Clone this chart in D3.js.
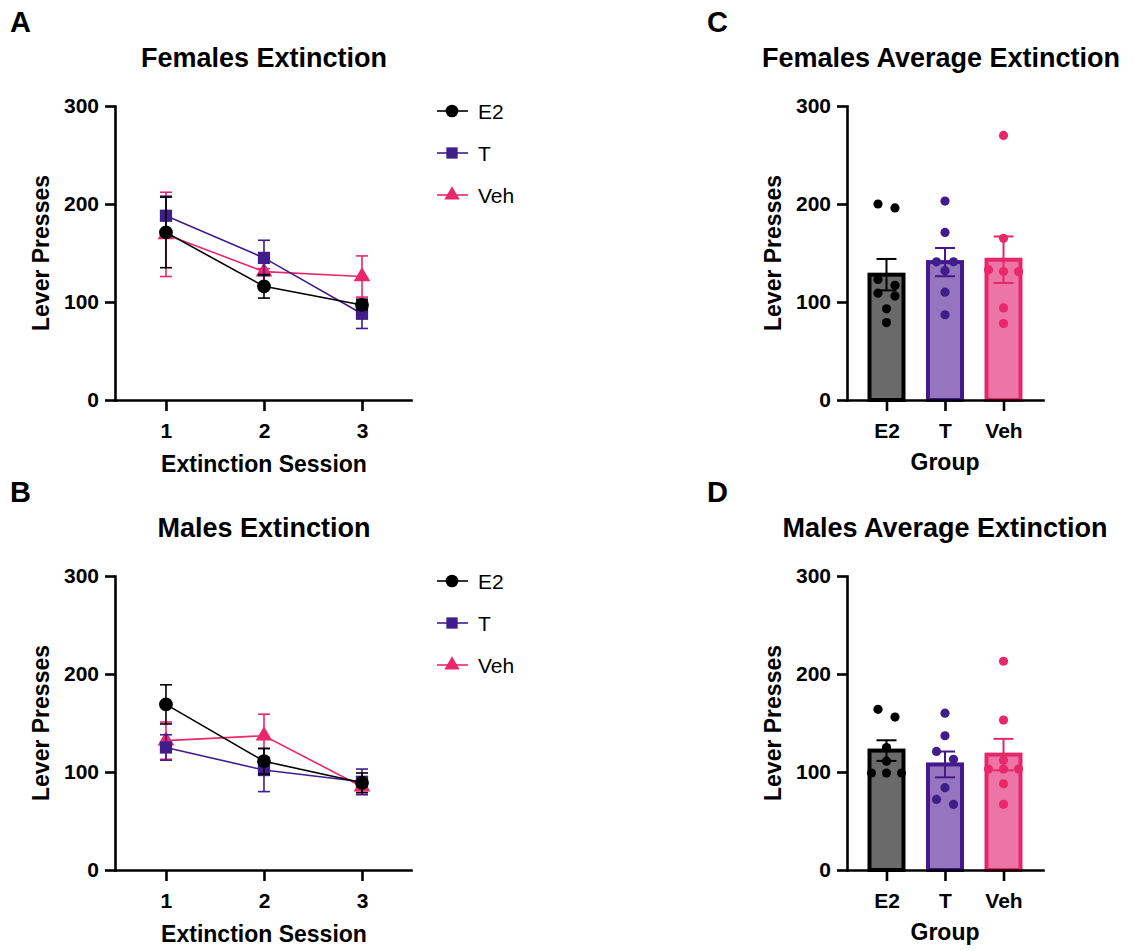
<!DOCTYPE html>
<html>
<head>
<meta charset="utf-8">
<script src="https://cdn.jsdelivr.net/npm/d3@7"></script>
<style>
  body { margin: 0; background: #fff; }
  text { font-family: "Liberation Sans", Arial, sans-serif; fill: #000; }
  .axis path, .axis line { stroke: #000; stroke-width: 2.6px; }
  .axis path { stroke-linecap: square; }
  .axis text { font-size: 21px; font-weight: bold; }
  .title { font-size: 27px; font-weight: bold; }
  .axis-label { font-size: 23px; font-weight: bold; }
  .panel-label { font-size: 29px; font-weight: bold; }
  .legend-text { font-size: 21px; }
</style>
</head>
<body>
<script>
// ---- data ----
const sessions = [1, 2, 3];
const groups = ["E2", "T", "Veh"];
const yTicks = [0, 100, 200, 300];

// session means / SEM, one row per group (E2, T, Veh)
const femalesMean = [[171, 116, 97], [188, 145, 88], [169, 131, 126]];
const femalesSem  = [[36, 12, 5], [20, 18, 15], [43, 3, 21]];
const malesMean   = [[169, 111, 89], [125, 102, 90], [132, 137, 85]];
const malesSem    = [[20, 13, 10], [13, 22, 13], [19, 22, 8]];

// individual animals (average over sessions), one row per group
const femalesPoints = [
  [200, 196, 123, 117, 109, 106, 93, 79],
  [203, 171, 141, 141, 132, 110, 87],
  [270, 165, 133, 131, 131, 94, 78]
];
const malesPoints = [
  [164, 156, 125, 111, 99, 99, 99],
  [160, 137, 121, 113, 84, 72, 67],
  [213, 153, 112, 103, 103, 103, 88, 67]
];

// ---- styles ----
const lineColors = ["#000000", "#3f1d8a", "#e8286b"];
const barFill    = ["#6a6a6a", "#9575bd", "#ec75a6"];
const barStroke  = ["#000000", "#45188c", "#e5286a"];
const symbols    = [d3.symbolCircle, d3.symbolSquare, d3.symbolTriangle];
const symbolSize = [150, 150, 120];

const svg = d3.select("body").append("svg")
  .attr("width", 1135)
  .attr("height", 951);

function yAxisLeft(g, y, axisX) {
  g.append("g")
    .attr("class", "axis")
    .attr("transform", `translate(${axisX},0)`)
    .call(d3.axisLeft(y).tickValues(yTicks).tickSize(10).tickSizeOuter(0).tickPadding(6));
}

function xAxisBottom(g, x, bottom, ticks) {
  const ax = d3.axisBottom(x).tickSize(11).tickSizeOuter(0).tickPadding(12);
  if (ticks) ax.tickValues(ticks).tickFormat(d3.format("d"));
  g.append("g")
    .attr("class", "axis")
    .attr("transform", `translate(0,${bottom})`)
    .call(ax);
}

function yLabel(g, bx, cy) {
  g.append("text")
    .attr("class", "axis-label")
    .attr("text-anchor", "middle")
    .attr("transform", `translate(${bx},${cy}) rotate(-90)`)
    .text("Lever Presses");
}

function lineChart(opt) {
  const g = svg.append("g");
  const top = opt.top, bottom = opt.top + 294;
  const x = d3.scaleLinear().domain([0.48, 3.5]).range([115, 411]);
  const y = d3.scaleLinear().domain([0, 300]).range([bottom, top]);

  g.append("text").attr("class", "panel-label").attr("x", 10).attr("y", opt.top - 74).text(opt.label);
  g.append("text").attr("class", "title").attr("text-anchor", "middle")
    .attr("x", 264).attr("y", opt.top - 39).text(opt.title);

  const line = d3.line().x((d, i) => x(sessions[i])).y(d => y(d));

  // draw Veh first so E2 ends on top
  [2, 1, 0].forEach(gi => {
    const m = opt.means[gi], s = opt.sems[gi], col = lineColors[gi];
    const eb = g.append("g").attr("stroke", col).attr("stroke-width", 1.6);
    sessions.forEach((ses, i) => {
      const cx = x(ses), y1 = y(m[i] + s[i]), y0 = y(m[i] - s[i]);
      eb.append("line").attr("x1", cx).attr("x2", cx).attr("y1", y1).attr("y2", y0);
      eb.append("line").attr("x1", cx - 6).attr("x2", cx + 6).attr("y1", y1).attr("y2", y1);
      eb.append("line").attr("x1", cx - 6).attr("x2", cx + 6).attr("y1", y0).attr("y2", y0);
    });
    g.append("path").attr("d", line(m)).attr("fill", "none")
      .attr("stroke", col).attr("stroke-width", 1.6);
    g.selectAll(null).data(m).join("path")
      .attr("transform", (d, i) => `translate(${x(sessions[i])},${y(d)})`)
      .attr("d", d3.symbol(symbols[gi], symbolSize[gi]))
      .attr("fill", col);
  });

  yAxisLeft(g, y, 115);
  xAxisBottom(g, x, bottom, sessions);
  yLabel(g, 49, (top + bottom) / 2);
  g.append("text").attr("class", "axis-label").attr("text-anchor", "middle")
    .attr("x", 264).attr("y", bottom + 72).text("Extinction Session");

  // legend
  groups.forEach((name, gi) => {
    const ly = opt.top + 5 + gi * 42;
    g.append("line").attr("x1", 437).attr("x2", 468).attr("y1", ly).attr("y2", ly)
      .attr("stroke", lineColors[gi]).attr("stroke-width", 1.6);
    g.append("path").attr("transform", `translate(452,${ly})`)
      .attr("d", d3.symbol(symbols[gi], symbolSize[gi] * 0.85)).attr("fill", lineColors[gi]);
    g.append("text").attr("class", "legend-text").attr("x", 478).attr("y", ly + 8).text(name);
  });
}

// simple row-based swarm: points closer than 8 px join a row, rows are centred
function swarm(vals, y) {
  const sorted = vals.slice().sort((a, b) => b - a);
  const rows = [];
  sorted.forEach(v => {
    const last = rows[rows.length - 1];
    if (last && Math.abs(y(v) - y(last[0])) < 8) last.push(v);
    else rows.push([v]);
  });
  const out = [];
  rows.forEach(r => {
    const step = r.length === 2 ? 17 : 15;
    r.forEach((v, i) => out.push({ v: v, dx: (i - (r.length - 1) / 2) * step }));
  });
  return out;
}

function barChart(opt) {
  const g = svg.append("g");
  const top = opt.top, bottom = opt.top + 294;
  const x = d3.scalePoint().domain(groups).range([847, 1043]).padding(0.675);
  const y = d3.scaleLinear().domain([0, 300]).range([bottom, top]);

  g.append("text").attr("class", "panel-label").attr("x", 707).attr("y", opt.top - 74).text(opt.label);
  g.append("text").attr("class", "title").attr("text-anchor", "middle")
    .attr("x", opt.titleX).attr("y", opt.top - 39).text(opt.title);

  groups.forEach((name, gi) => {
    const pts = opt.points[gi];
    const mean = d3.mean(pts);
    const sem = d3.deviation(pts) / Math.sqrt(pts.length);
    const cx = x(name);
    g.append("rect")
      .attr("x", cx - 17).attr("width", 34)
      .attr("y", y(mean)).attr("height", bottom - y(mean))
      .attr("fill", barFill[gi]).attr("stroke", barStroke[gi]).attr("stroke-width", 4);
    const y1 = y(mean + sem), y0 = y(mean - sem);
    const eb = g.append("g").attr("stroke", barStroke[gi]).attr("stroke-width", 2);
    eb.append("line").attr("x1", cx).attr("x2", cx).attr("y1", y1).attr("y2", y0);
    eb.append("line").attr("x1", cx - 10).attr("x2", cx + 10).attr("y1", y1).attr("y2", y1);
    eb.append("line").attr("x1", cx - 10).attr("x2", cx + 10).attr("y1", y0).attr("y2", y0);
    g.selectAll(null).data(swarm(pts, y)).join("circle")
      .attr("cx", d => cx + d.dx).attr("cy", d => y(d.v)).attr("r", 4.6)
      .attr("fill", lineColors[gi]);
  });

  yAxisLeft(g, y, 847);
  xAxisBottom(g, x, bottom, null);
  yLabel(g, 781, (top + bottom) / 2);
  g.append("text").attr("class", "axis-label").attr("text-anchor", "middle")
    .attr("x", 945).attr("y", bottom + 70).text("Group");
}

lineChart({ top: 106, label: "A", title: "Females Extinction", means: femalesMean, sems: femalesSem });
lineChart({ top: 576, label: "B", title: "Males Extinction", means: malesMean, sems: malesSem });
barChart({ top: 106, label: "C", title: "Females Average Extinction", titleX: 941, points: femalesPoints });
barChart({ top: 576, label: "D", title: "Males Average Extinction", titleX: 945, points: malesPoints });
</script>
</body>
</html>
